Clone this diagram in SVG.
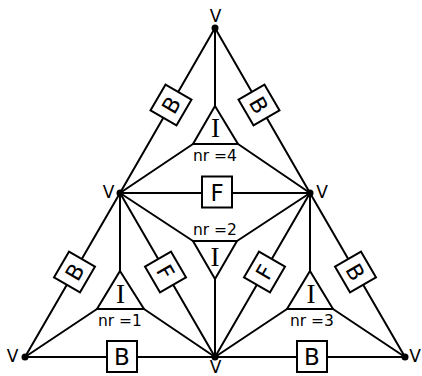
<svg xmlns="http://www.w3.org/2000/svg" width="422" height="376" viewBox="0 0 422 376">
<style>
.e{stroke:#000;stroke-width:2;fill:none;stroke-linecap:round}
.box{fill:#fff;stroke:#000;stroke-width:2}
.tri{fill:#fff;stroke:#000;stroke-width:2;stroke-linejoin:miter}
.lbl{font-family:"DejaVu Sans",sans-serif;font-size:23px;text-anchor:middle;fill:#000}
.rl{font-size:22px}
.v{font-family:"DejaVu Sans",sans-serif;font-size:17px;text-anchor:middle;fill:#000}
.nr{font-family:"DejaVu Sans",sans-serif;font-size:15.5px;text-anchor:middle;fill:#000}
.I{font-family:"Liberation Serif",serif;font-size:27px;text-anchor:middle;fill:#000}
</style>
<rect width="422" height="376" fill="#fff"/>
<g id="connectors">
<line class="e" x1="215" y1="28" x2="120" y2="193"/>
<line class="e" x1="120" y1="193" x2="25" y2="357"/>
<line class="e" x1="215" y1="28" x2="310" y2="193"/>
<line class="e" x1="310" y1="193" x2="405" y2="357"/>
<line class="e" x1="25" y1="357" x2="405" y2="357"/>
<line class="e" x1="120" y1="193" x2="310" y2="193"/>
<line class="e" x1="120" y1="193" x2="215" y2="357"/>
<line class="e" x1="310" y1="193" x2="215" y2="357"/>
<line class="e" x1="215" y1="28" x2="215" y2="106"/>
<line class="e" x1="120" y1="193" x2="193" y2="144"/>
<line class="e" x1="310" y1="193" x2="238" y2="144"/>
<line class="e" x1="120" y1="193" x2="120" y2="271"/>
<line class="e" x1="25" y1="357" x2="97" y2="309"/>
<line class="e" x1="215" y1="357" x2="144" y2="309"/>
<line class="e" x1="310" y1="193" x2="310" y2="271"/>
<line class="e" x1="405" y1="357" x2="333" y2="309"/>
<line class="e" x1="215" y1="357" x2="287" y2="309"/>
<line class="e" x1="120" y1="193" x2="193" y2="241"/>
<line class="e" x1="310" y1="193" x2="237" y2="241"/>
<line class="e" x1="215" y1="279" x2="215" y2="357"/>
</g>
<g id="i4"><polygon class="tri" points="215,106 238,144 193,144"/><text class="I" x="215.5" y="137">I</text><text class="nr" x="215" y="161">nr =4</text></g>
<g id="i1"><polygon class="tri" points="120,271 144,309 97,309"/><text class="I" x="120.5" y="303">I</text><text class="nr" x="120" y="326">nr =1</text></g>
<g id="i3"><polygon class="tri" points="310,271 333,309 287,309"/><text class="I" x="311" y="303">I</text><text class="nr" x="312" y="326">nr =3</text></g>
<g id="i2"><polygon class="tri" points="193,241 237,241 215,279"/><text class="I" x="215" y="266">I</text><text class="nr" x="215" y="235">nr =2</text></g>
<g id="b-tl" transform="translate(171,105) rotate(-60)"><rect class="box" x="-15" y="-15" width="30" height="30"/><text class="lbl rl" y="8">B</text></g>
<g id="b-tr" transform="translate(259,105) rotate(60)"><rect class="box" x="-15" y="-15" width="30" height="30"/><text class="lbl rl" y="8">B</text></g>
<g id="b-l" transform="translate(74.5,272) rotate(-60)"><rect class="box" x="-15" y="-15" width="30" height="30"/><text class="lbl rl" y="8">B</text></g>
<g id="f-l" transform="translate(165.5,272) rotate(60)"><rect class="box" x="-15" y="-15" width="30" height="30"/><text class="lbl rl" y="8">F</text></g>
<g id="f-r" transform="translate(264.5,272) rotate(-60)"><rect class="box" x="-15" y="-15" width="30" height="30"/><text class="lbl rl" y="8">F</text></g>
<g id="b-r" transform="translate(355.5,272) rotate(60)"><rect class="box" x="-15" y="-15" width="30" height="30"/><text class="lbl rl" y="8">B</text></g>
<g id="f-m"><rect class="box" x="202" y="176.5" width="30" height="31"/><text class="lbl" x="217" y="201">F</text></g>
<g id="b-bl"><rect class="box" x="107" y="341" width="30" height="31"/><text class="lbl" x="122" y="364.5">B</text></g>
<g id="b-br"><rect class="box" x="297" y="341" width="30" height="31"/><text class="lbl" x="312" y="364.5">B</text></g>
<g id="v-top"><circle cx="215" cy="28" r="3.5"/><text class="v" x="215.5" y="22">V</text></g>
<g id="v-ml"><circle cx="120" cy="193" r="3.5"/><text class="v" x="108.5" y="197.5">V</text></g>
<g id="v-mr"><circle cx="310" cy="193" r="3.5"/><text class="v" x="322" y="197.5">V</text></g>
<g id="v-bl"><circle cx="25" cy="357" r="3.5"/><text class="v" x="12.5" y="362">V</text></g>
<g id="v-bm"><circle cx="215" cy="357" r="3.5"/><text class="v" x="215.5" y="373">V</text></g>
<g id="v-br"><circle cx="405" cy="357" r="3.5"/><text class="v" x="415" y="362">V</text></g>
</svg>
